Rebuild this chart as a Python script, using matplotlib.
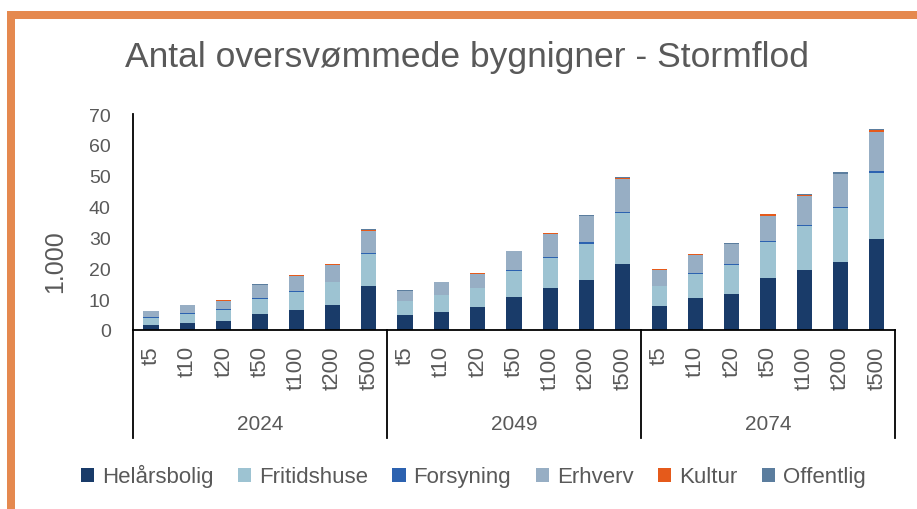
import matplotlib
matplotlib.use("Agg")
import matplotlib.pyplot as plt
import matplotlib.patches as mpatch
import matplotlib.transforms as mtrans
import numpy as np

plt.rcParams['font.family'] = ['Liberation Sans', 'DejaVu Sans']

# data (1.000 buildings)
years = ['2024', '2049', '2074']
periods = ['t5', 't10', 't20', 't50', 't100', 't200', 't500']
series = ['Helårsbolig', 'Fritidshuse', 'Forsyning', 'Erhverv', 'Kultur', 'Offentlig']
colors = ['#193B69', '#9DC3D2', '#2C62B0', '#97AEC4', '#E55A1B', '#5B7D9E']

helaarsbolig = [1.5, 2.3, 3.0, 5.2, 6.6, 8.1, 14.3,
                4.9, 5.9, 7.4, 10.7, 13.6, 16.3, 21.4,
                7.9, 10.4, 11.7, 16.9, 19.4, 22.1, 29.5]
fritidshuse = [2.5, 3.0, 3.6, 5.0, 5.7, 7.4, 10.3,
               4.5, 5.4, 6.2, 8.3, 9.7, 11.7, 16.4,
               6.3, 7.8, 9.4, 11.6, 14.3, 17.4, 21.4]
forsyning = [0.1, 0.1, 0.1, 0.1, 0.2, 0.2, 0.3,
             0.1, 0.1, 0.1, 0.3, 0.4, 0.4, 0.5,
             0.1, 0.2, 0.3, 0.3, 0.4, 0.4, 0.6]
erhverv = [2.0, 2.6, 2.8, 4.2, 5.1, 5.5, 7.3,
           3.0, 4.0, 4.6, 6.2, 7.5, 8.4, 10.6,
           5.3, 5.9, 6.4, 8.3, 9.4, 10.5, 12.8]
kultur = [0.1, 0.1, 0.1, 0.2, 0.1, 0.2, 0.3,
          0.2, 0.1, 0.3, 0.2, 0.2, 0.3, 0.3,
          0.1, 0.3, 0.2, 0.4, 0.4, 0.2, 0.4]
offentlig = [0.1, 0.1, 0.1, 0.1, 0.1, 0.1, 0.1,
             0.1, 0.1, 0.0, 0.0, 0.1, 0.3, 0.3,
             0.1, 0.1, 0.2, 0.2, 0.3, 0.6, 0.4]

values = [helaarsbolig, fritidshuse, forsyning, erhverv, kultur, offentlig]
txt = '#595959'

fig = plt.figure(figsize=(9.17, 5.10), dpi=100)
ax = fig.add_axes([0.145, 0.351, 0.831, 0.4235])

x = np.arange(len(helaarsbolig))
bottom = np.zeros(len(x))
for name, vals, col in zip(series, values, colors):
    ax.bar(x, vals, 0.42, bottom=bottom, color=col, label=name, linewidth=0)
    bottom += np.array(vals)

ax.set_xlim(-0.5, len(x) - 0.5)
ax.set_ylim(0, 70)
ax.set_yticks(range(0, 71, 10))
ax.set_xticks(x)
ax.set_xticklabels(periods * len(years), rotation=90)
ax.tick_params(axis='y', length=0, pad=16, labelsize=14, labelcolor=txt)
ax.tick_params(axis='x', length=0, pad=11, labelsize=16, labelcolor=txt)
for s in ['top', 'right']:
    ax.spines[s].set_visible(False)
for s in ['left', 'bottom']:
    ax.spines[s].set_color('black')
    ax.spines[s].set_linewidth(1.3)

# second level of the category axis
trans = mtrans.blended_transform_factory(ax.transData, ax.transAxes)
n = len(periods)
for k in range(len(years) + 1):
    xs = k * n - 0.5
    ax.plot([xs, xs], [0, -0.5], transform=trans, clip_on=False, color='black', lw=1.3)
for k, yr in enumerate(years):
    ax.text(k * n + (n - 1) / 2, -0.435, yr, transform=trans, ha='center', va='center',
            fontsize=15, color=txt)

fig.text(0.509, 0.869, 'Antal oversvømmede bygnigner - Stormflod', ha='center', va='baseline',
         fontsize=25.5, color=txt)
fig.text(55 / 917, 1 - 262 / 510, '1.000', rotation=90, ha='center', va='center',
         fontsize=18, color=txt)

fig.legend(loc='center', bbox_to_anchor=(0.516, 0.065), ncol=6, frameon=False,
           fontsize=16, labelcolor=txt, handlelength=0.6, handleheight=0.6,
           handletextpad=0.35, columnspacing=1.1)

# orange frame (top and left)
orange = '#E5894F'
fig.add_artist(mpatch.Rectangle((7 / 917, 0), 8 / 917, 498 / 510, transform=fig.transFigure,
                                color=orange, lw=0))
fig.add_artist(mpatch.Rectangle((7 / 917, 490 / 510), 910 / 917, 8 / 510, transform=fig.transFigure,
                                color=orange, lw=0))

fig.savefig('out.png', dpi=100)
